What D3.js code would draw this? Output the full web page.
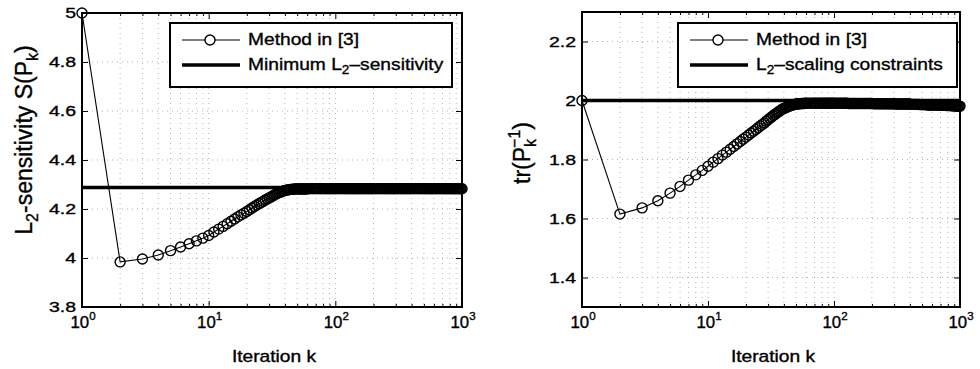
<!DOCTYPE html>
<html>
<head>
<meta charset="utf-8">
<script src="https://cdn.jsdelivr.net/npm/d3@7"></script>
<style>
   html, body { margin: 0; padding: 0; background: #fff; }
   svg text {
      font-family: "Liberation Sans", Arial, sans-serif;
      fill: #000;
      stroke: #000;
      stroke-width: 0.35px;
   }
   .grid { stroke: #aaa; stroke-width: 0.9; stroke-dasharray: 1,4; }
</style>
</head>
<body>
<svg id="chart" width="980" height="369"></svg>
<script>
"use strict";

// iteration index k of every plotted marker (shared by both panels)
const iterations = [
   1, 2, 3, 4, 5, 6, 7, 8, 9, 10,
   11, 12, 13, 14, 15, 16, 17, 18, 19, 20,
   21, 22, 23, 24, 25, 26, 27, 28, 29, 30,
   31, 32, 33, 34, 35, 36, 37, 38, 39, 40,
   41, 42, 43, 44, 45, 46, 47, 48, 49, 50,
   51, 52, 53, 54, 55, 56, 57, 58, 59, 60,
   62, 64, 66, 68, 70, 72, 74, 76, 78, 80, 82, 84, 86, 88, 90, 92, 94, 96, 98, 100,
   103, 106, 109, 112, 115, 118, 121, 124, 127, 130, 133, 136, 139, 142, 145, 148, 151,
   155, 159, 163, 167, 171, 175, 179, 183, 187, 191, 195, 199,
   205, 211, 217, 223, 229, 235, 241, 247, 253, 259, 265, 271, 277, 283, 289, 295, 301,
   309, 317, 325, 333, 341, 349, 357, 365, 373, 381, 389, 397,
   409, 421, 433, 445, 457, 469, 481, 493, 505, 517, 529, 541, 553, 565, 577, 589, 601,
   616, 632, 648, 664, 680, 696, 712, 728, 744, 760, 776, 792, 808, 824, 840, 856, 872,
   888, 904, 920, 936, 952, 968, 984, 1000
];

// L2-sensitivity S(P_k), method in [3]
const sensitivity = [
   5.000, 3.984, 3.996, 4.012, 4.030, 4.045, 4.058, 4.070, 4.081, 4.092,
   4.106, 4.118, 4.129, 4.140, 4.150, 4.159, 4.168, 4.176, 4.183, 4.190,
   4.197, 4.204, 4.210, 4.216, 4.222, 4.227, 4.232, 4.237, 4.241, 4.245,
   4.249, 4.253, 4.257, 4.261, 4.264, 4.267, 4.269, 4.272, 4.274, 4.276,
   4.277, 4.278, 4.279, 4.280, 4.280, 4.281, 4.281, 4.282, 4.282, 4.282,
   4.282, 4.282, 4.282, 4.282, 4.282, 4.282, 4.282, 4.282, 4.282, 4.282,
   4.283, 4.283, 4.283, 4.283, 4.283, 4.283, 4.283, 4.283, 4.283, 4.283,
   4.283, 4.283, 4.283, 4.283, 4.283, 4.283, 4.283, 4.283, 4.283, 4.283,
   4.283, 4.283, 4.283, 4.283, 4.283, 4.283, 4.283, 4.283, 4.283, 4.283, 4.283, 4.283, 4.283, 4.283, 4.283, 4.283, 4.283,
   4.283, 4.283, 4.283, 4.283, 4.283, 4.283, 4.283, 4.283, 4.283, 4.283, 4.283, 4.283,
   4.283, 4.283, 4.283, 4.283, 4.283, 4.283, 4.283, 4.283, 4.283, 4.283, 4.283, 4.283, 4.283, 4.283, 4.283, 4.283, 4.283,
   4.283, 4.283, 4.283, 4.283, 4.283, 4.283, 4.283, 4.283, 4.283, 4.283, 4.283, 4.283,
   4.283, 4.283, 4.283, 4.283, 4.283, 4.283, 4.283, 4.283, 4.283, 4.283, 4.283, 4.283, 4.283, 4.283, 4.283, 4.283, 4.283,
   4.283, 4.283, 4.283, 4.283, 4.283, 4.283, 4.283, 4.283, 4.283, 4.283, 4.283, 4.283, 4.283, 4.283, 4.283, 4.283, 4.283,
   4.283, 4.283, 4.283, 4.283, 4.283, 4.283, 4.283, 4.283
];

// tr(P_k^-1), method in [3]
const traceInv = [
   2.000, 1.615, 1.636, 1.660, 1.686, 1.709, 1.730, 1.748, 1.763, 1.777,
   1.791, 1.803, 1.815, 1.825, 1.835, 1.844, 1.853, 1.861, 1.869, 1.876,
   1.883, 1.890, 1.896, 1.902, 1.908, 1.914, 1.919, 1.924, 1.930, 1.935,
   1.940, 1.944, 1.949, 1.953, 1.957, 1.961, 1.964, 1.968, 1.971, 1.973,
   1.975, 1.977, 1.979, 1.981, 1.982, 1.984, 1.985, 1.986, 1.987, 1.988,
   1.988, 1.989, 1.989, 1.989, 1.990, 1.990, 1.990, 1.990, 1.991, 1.991,
   1.991, 1.991, 1.991, 1.991, 1.991, 1.991, 1.991, 1.991, 1.991, 1.991,
   1.991, 1.991, 1.991, 1.991, 1.991, 1.991, 1.991, 1.991, 1.991, 1.991,
   1.991, 1.991, 1.991, 1.991, 1.991, 1.991, 1.991, 1.991, 1.991, 1.990, 1.990, 1.990, 1.990, 1.990, 1.990, 1.990, 1.990,
   1.990, 1.990, 1.990, 1.990, 1.990, 1.990, 1.990, 1.990, 1.990, 1.990, 1.990, 1.990,
   1.989, 1.989, 1.989, 1.989, 1.989, 1.989, 1.989, 1.989, 1.989, 1.989, 1.989, 1.989, 1.989, 1.989, 1.989, 1.989, 1.989,
   1.988, 1.988, 1.988, 1.988, 1.988, 1.988, 1.988, 1.988, 1.988, 1.988, 1.988, 1.988,
   1.987, 1.987, 1.987, 1.987, 1.987, 1.987, 1.986, 1.986, 1.986, 1.986, 1.986, 1.986, 1.985, 1.985, 1.985, 1.985, 1.985,
   1.985, 1.985, 1.985, 1.985, 1.985, 1.984, 1.984, 1.984, 1.984, 1.984, 1.983, 1.983, 1.983, 1.983, 1.983, 1.982, 1.982,
   1.982, 1.982, 1.982, 1.981, 1.981, 1.981, 1.981, 1.981
];

const minSensitivity = 4.288;   // minimum L2-sensitivity
const scalingBound = 2.0;       // L2-scaling constraints

const xTicks = [1, 10, 100, 1000];
const xTickExponents = ["0", "1", "2", "3"];
const sensTicks = [3.8, 4, 4.2, 4.4, 4.6, 4.8, 5];
const traceTicks = [1.4, 1.6, 1.8, 2, 2.2];

if (sensitivity.length !== iterations.length || traceInv.length !== iterations.length) {
   console.error("length mismatch", iterations.length, sensitivity.length, traceInv.length);
}

const svg = d3.select("#chart");

function scaledText(parent, x, y, size, sx, anchor) {
   return parent.append("text")
      .attr("transform", `translate(${x},${y}) scale(${sx},1)`)
      .attr("font-size", size)
      .attr("text-anchor", anchor);
}

function drawPanel(p) {
   const x = d3.scaleLog().domain([1, 1000]).range([p.left, p.right]);
   const y = d3.scaleLinear().domain(p.yDomain).range([p.bottom, p.top]);
   const g = svg.append("g");

   const allX = x.ticks();
   const minorX = allX.filter(d => !xTicks.includes(d));

   // dotted grid
   g.append("g").selectAll("line").data(allX).join("line")
      .attr("class", "grid")
      .attr("x1", d => x(d)).attr("x2", d => x(d))
      .attr("y1", p.top).attr("y2", p.bottom);
   g.append("g").selectAll("line").data(p.yTicks).join("line")
      .attr("class", "grid")
      .attr("x1", p.left).attr("x2", p.right)
      .attr("y1", d => y(d)).attr("y2", d => y(d));

   // inward ticks on all four sides
   const noDomain = s => s.select(".domain").remove();
   g.append("g").attr("transform", `translate(0,${p.bottom})`)
      .call(d3.axisBottom(x).tickValues(xTicks).tickSize(-6).tickFormat("")).call(noDomain);
   g.append("g").attr("transform", `translate(0,${p.bottom})`)
      .call(d3.axisBottom(x).tickValues(minorX).tickSize(-3).tickFormat("")).call(noDomain);
   g.append("g").attr("transform", `translate(0,${p.top})`)
      .call(d3.axisTop(x).tickValues(xTicks).tickSize(-6).tickFormat("")).call(noDomain);
   g.append("g").attr("transform", `translate(0,${p.top})`)
      .call(d3.axisTop(x).tickValues(minorX).tickSize(-3).tickFormat("")).call(noDomain);
   g.append("g").attr("transform", `translate(${p.left},0)`)
      .call(d3.axisLeft(y).tickValues(p.yTicks).tickSize(-6).tickFormat("")).call(noDomain);
   g.append("g").attr("transform", `translate(${p.right},0)`)
      .call(d3.axisRight(y).tickValues(p.yTicks).tickSize(-6).tickFormat("")).call(noDomain);

   // reference line (thick)
   g.append("line")
      .attr("x1", x(1)).attr("x2", x(1000))
      .attr("y1", y(p.refValue)).attr("y2", y(p.refValue))
      .attr("stroke", "#000").attr("stroke-width", 3.5);

   // method in [3]: thin line + open circles
   const pts = iterations.map((k, i) => [k, p.values[i]]);
   g.append("path")
      .datum(pts)
      .attr("fill", "none").attr("stroke", "#000").attr("stroke-width", 1.1)
      .attr("d", d3.line().x(d => x(d[0])).y(d => y(d[1])));
   g.append("g").selectAll("circle").data(pts).join("circle")
      .attr("cx", d => x(d[0])).attr("cy", d => y(d[1]))
      .attr("r", 5)
      .attr("fill", "none").attr("stroke", "#000").attr("stroke-width", 1.4);

   // axes box
   g.append("rect")
      .attr("x", p.left).attr("y", p.top)
      .attr("width", p.right - p.left).attr("height", p.bottom - p.top)
      .attr("fill", "none").attr("stroke", "#000").attr("stroke-width", 2);

   // y tick labels
   p.yTicks.forEach(v => {
      scaledText(g, p.left - 6, y(v) + 5, 15, 1.3, "end").text(d3.format("~g")(v));
   });

   // x tick labels 10^n
   xTicks.forEach((v, i) => {
      const t = scaledText(g, x(v) + 1, 328, 16, 1.05, "middle");
      t.append("tspan").text("10");
      t.append("tspan").attr("dy", -8).attr("font-size", 11).text(xTickExponents[i]);
   });

   // x label
   scaledText(g, (p.left + p.right) / 2 + 2, 362, 16, 1.2, "middle").text("Iteration k");

   // y label
   const yl = g.append("text")
      .attr("transform", `translate(${p.yLabelX},${p.yLabelY}) rotate(-90)`)
      .attr("font-size", 23)
      .attr("text-anchor", "middle");
   p.yLabel(yl);

   // legend
   const L = p.legend;
   const lg = g.append("g");
   lg.append("rect")
      .attr("x", L.x).attr("y", L.y).attr("width", L.w).attr("height", L.h)
      .attr("fill", "#fff").attr("stroke", "#000").attr("stroke-width", 2);
   const row1 = L.y + 17, row2 = L.y + 42;
   lg.append("line")
      .attr("x1", L.x + 12).attr("x2", L.x + 70).attr("y1", row1).attr("y2", row1)
      .attr("stroke", "#000").attr("stroke-width", 1.1);
   lg.append("circle")
      .attr("cx", L.x + 40).attr("cy", row1).attr("r", 5)
      .attr("fill", "#fff").attr("stroke", "#000").attr("stroke-width", 1.4);
   lg.append("line")
      .attr("x1", L.x + 12).attr("x2", L.x + 70).attr("y1", row2).attr("y2", row2)
      .attr("stroke", "#000").attr("stroke-width", 3.5);
   scaledText(lg, L.x + 78, row1 + 5, 17, 1.13, "start").text("Method in [3]");
   const t2 = scaledText(lg, L.x + 78, row2 + 5, 17, 1.13, "start");
   t2.append("tspan").text(L.before + "L");
   t2.append("tspan").attr("dy", 4).attr("font-size", 12).text("2");
   t2.append("tspan").attr("dy", -4).text(L.after);
}

drawPanel({
   left: 82, right: 462, top: 13, bottom: 307,
   yDomain: [3.8, 5.0], yTicks: sensTicks,
   values: sensitivity, refValue: minSensitivity,
   yLabelX: 32, yLabelY: 140,
   yLabel: t => {
      t.append("tspan").text("L");
      t.append("tspan").attr("dy", 6).attr("font-size", 16).text("2");
      t.append("tspan").attr("dy", -6).text("-sensitivity S(P");
      t.append("tspan").attr("dy", 6).attr("font-size", 16).text("k");
      t.append("tspan").attr("dy", -6).text(")");
   },
   legend: { x: 170, y: 23, w: 282, h: 64, before: "Minimum ", after: "\u2013sensitivity" }
});

drawPanel({
   left: 582, right: 960, top: 12, bottom: 307,
   yDomain: [1.3, 2.3], yTicks: traceTicks,
   values: traceInv, refValue: scalingBound,
   yLabelX: 530, yLabelY: 153,
   yLabel: t => {
      t.append("tspan").text("tr(P");
      t.append("tspan").attr("dy", 6).attr("font-size", 16).text("k");
      t.append("tspan").attr("dx", -9).attr("dy", -16).attr("font-size", 16).text("\u22121");
      t.append("tspan").attr("dy", 10).text(")");
   },
   legend: { x: 678, y: 23, w: 279, h: 64, before: "", after: "\u2013scaling constraints" }
});
</script>
</body>
</html>
